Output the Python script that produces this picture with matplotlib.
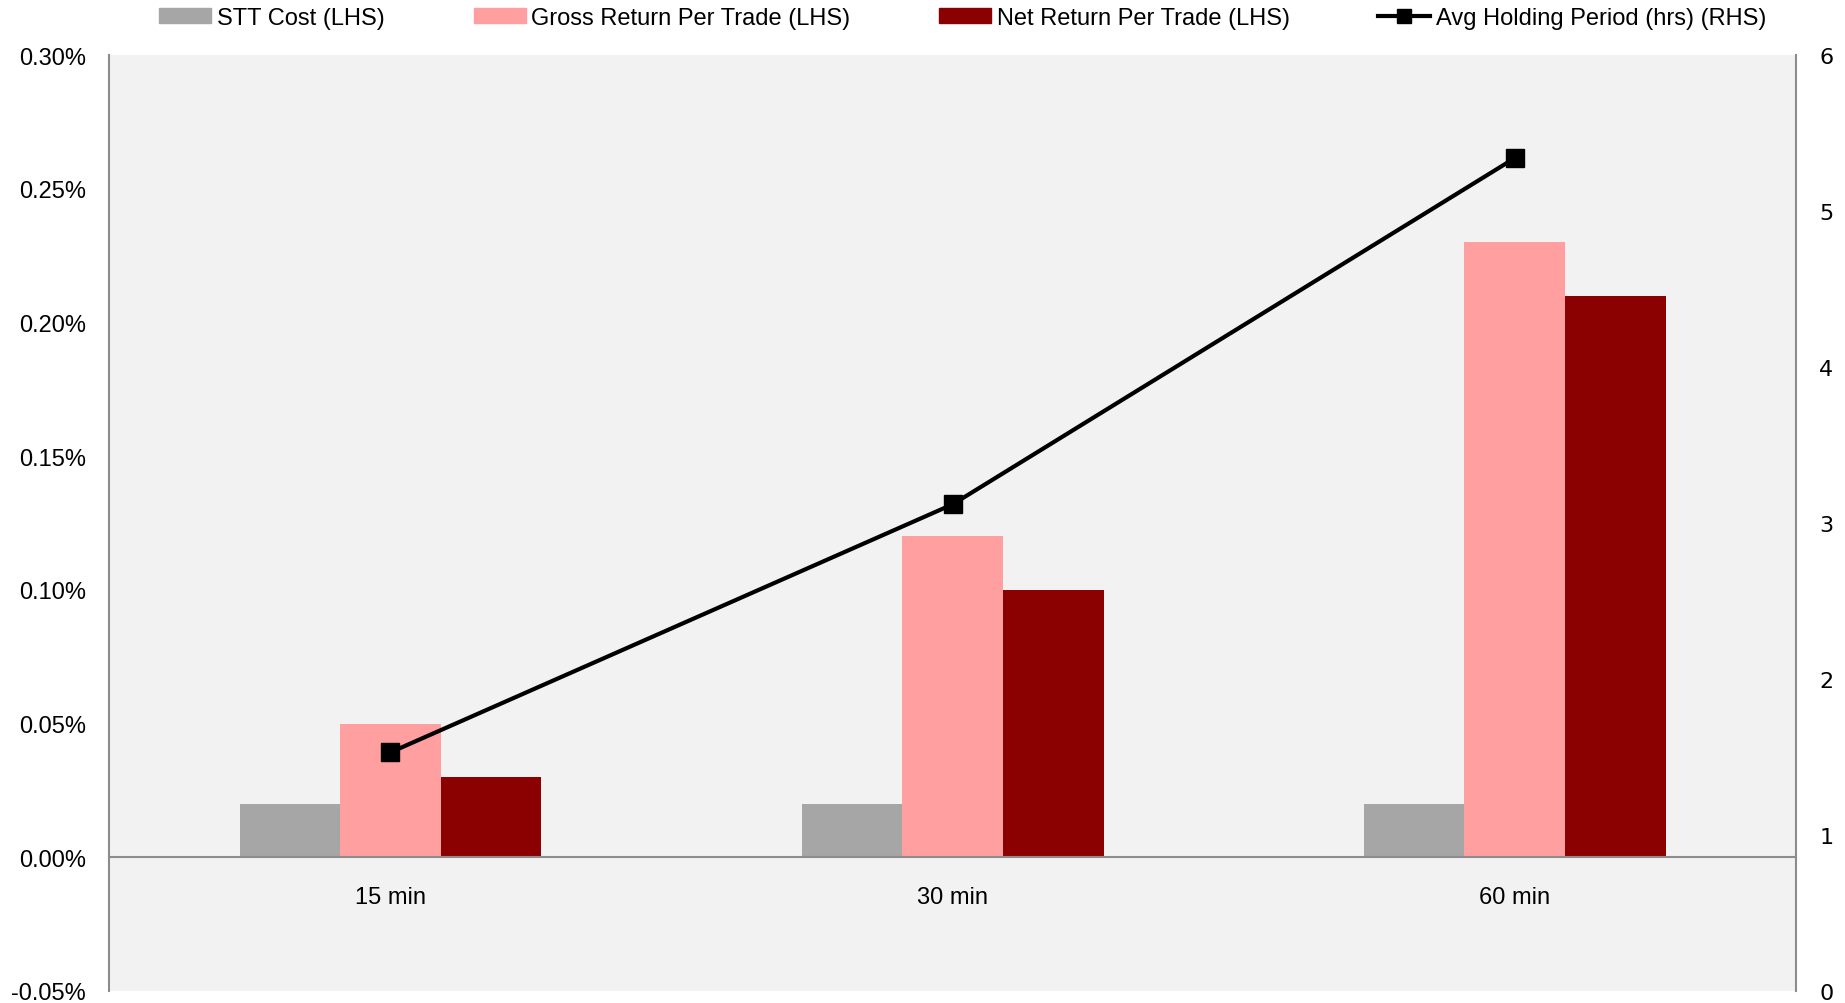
import numpy as np
import matplotlib
matplotlib.use("Agg")
import matplotlib.pyplot as plt
from matplotlib.patches import Patch
from matplotlib.lines import Line2D
from matplotlib.ticker import FuncFormatter

plt.rcParams['font.family'] = ['Liberation Sans', 'DejaVu Sans']

# data
categories = ["15 min", "30 min", "60 min"]
stt_cost = [0.02, 0.02, 0.02]          # % per trade
gross_return = [0.05, 0.12, 0.23]      # % per trade
net_return = [0.03, 0.10, 0.21]        # % per trade
holding_hrs = [1.53, 3.12, 5.34]       # hours

series_labels = ["STT Cost (LHS)", "Gross Return Per Trade (LHS)",
                 "Net Return Per Trade (LHS)", "Avg Holding Period (hrs) (RHS)"]

c_stt = "#A6A6A6"
c_gross = "#FF9F9F"
c_net = "#8B0000"
c_axis = "#8C8C8C"

fig = plt.figure(figsize=(18.45, 10.04), dpi=100)
ax = fig.add_axes([0.0593, 0.012, 0.914, 0.932])
ax.set_facecolor("#F2F2F2")

x = np.arange(len(categories))
w = 0.179
ax.bar(x - w, stt_cost, w, color=c_stt, zorder=2)
ax.bar(x, gross_return, w, color=c_gross, zorder=2)
ax.bar(x + w, net_return, w, color=c_net, zorder=2)

ax.set_xlim(-0.5, 2.5)
ax.set_ylim(-0.05, 0.30)
ax.set_yticks(np.arange(-0.05, 0.301, 0.05))
ax.yaxis.set_major_formatter(FuncFormatter(lambda v, p: f"{v:.2f}%"))
ax.set_xticks(x)
ax.set_xticklabels(categories)

for s in ["top", "right"]:
    ax.spines[s].set_visible(False)
ax.spines["left"].set_color(c_axis)
ax.spines["left"].set_linewidth(1.5)
ax.spines["bottom"].set_position(("data", 0))
ax.spines["bottom"].set_color(c_axis)
ax.spines["bottom"].set_linewidth(1.5)
ax.tick_params(axis="x", length=0, pad=21, labelsize=17)
ax.tick_params(axis="y", length=0, pad=17, labelsize=17)

# holding period on the right axis
ax2 = ax.twinx()
ax2.plot(x, holding_hrs, color="black", lw=3, marker="s", ms=12.5, zorder=5)
ax2.set_ylim(0, 6)
ax2.set_yticks(range(0, 7))
for s in ["top", "left", "bottom"]:
    ax2.spines[s].set_visible(False)
ax2.spines["right"].set_color(c_axis)
ax2.spines["right"].set_linewidth(1.5)
ax2.tick_params(axis="y", length=0, pad=17, labelsize=16)
for t in ax2.get_yticklabels():
    t.set_fontfamily("DejaVu Sans")

handles = [Patch(color=c_stt), Patch(color=c_gross), Patch(color=c_net),
           Line2D([], [], color="black", lw=3, marker="s", ms=10)]
fig.legend(handles, series_labels, loc="center", bbox_to_anchor=(0.522, 0.981),
           ncol=4, frameon=False, fontsize=17, handlelength=2.2,
           handleheight=0.6, handletextpad=0.25, columnspacing=3.75)

fig.savefig("out.png", dpi=100)
